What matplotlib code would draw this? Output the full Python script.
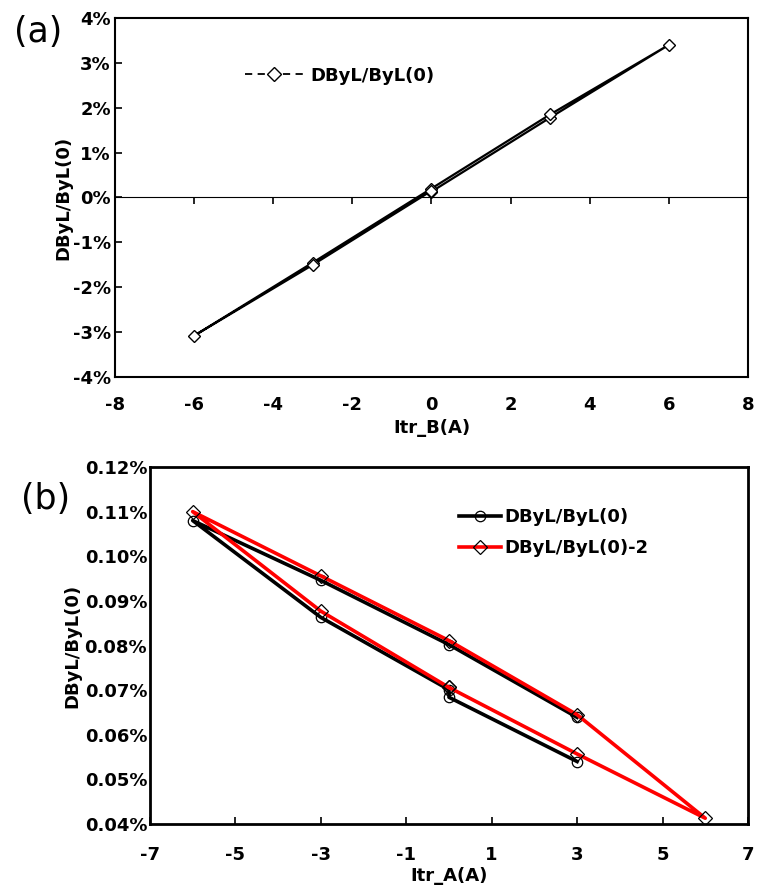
import matplotlib
matplotlib.use("Agg")
import matplotlib.pyplot as plt
from matplotlib.lines import Line2D
from matplotlib.ticker import FuncFormatter

# panel (a): sweep of Itr_B
itr_b = [0, 3, 6, 3, 0, -3, -6, -3, 0]
dbyl_a = [0.13, 1.78, 3.40, 1.85, 0.20, -1.45, -3.08, -1.50, 0.15]

# panel (b): sweep of Itr_A
itr_a_1 = [3, 0, 0, -3, -6, -3, 0, 3]
dbyl_b_1 = [0.0540, 0.0684, 0.0701, 0.0863, 0.1080, 0.0946, 0.0802, 0.0639]
itr_a_2 = [0, -3, -6, -3, 0, 3, 6, 3, 0]
dbyl_b_2 = [0.0706, 0.0877, 0.1100, 0.0956, 0.0811, 0.0645, 0.0413, 0.0557, 0.0706]

plt.rcParams["font.family"] = "DejaVu Sans"
plt.rcParams["font.weight"] = "bold"
plt.rcParams["axes.unicode_minus"] = False

fig = plt.figure(figsize=(7.64, 8.89), dpi=100)
ax_a = fig.add_axes([0.1505, 0.5759, 0.8285, 0.4039])
ax_b = fig.add_axes([0.1963, 0.0731, 0.7827, 0.4016])

tick_font = 13

# ---- (a)
ax_a.plot(itr_b, dbyl_a, color="black", lw=1.6, marker="D", ms=6.5,
          mfc="white", mec="black", mew=1.0)
ax_a.set_xlim(-8, 8)
ax_a.set_ylim(-4, 4)
ax_a.set_xticks(range(-8, 9, 2))
ax_a.set_yticks(range(-4, 5, 1))
ax_a.yaxis.set_major_formatter(FuncFormatter(lambda v, p: f"{v:.0f}%"))
ax_a.tick_params(axis="x", length=0, labelsize=tick_font, pad=14)
ax_a.tick_params(axis="y", direction="in", length=5, width=1.2, labelsize=tick_font, pad=3)
for s in ax_a.spines.values():
    s.set_linewidth(1.5)
zero_axis = ax_a.secondary_xaxis(0.5)
zero_axis.set_xticks(range(-8, 9, 2))
zero_axis.tick_params(direction="in", length=5, width=1.2, labelbottom=False, labeltop=False)
zero_axis.spines["bottom"].set_linewidth(1.3)
ax_a.set_xlabel("Itr_B(A)", fontsize=13, fontweight="bold", labelpad=3)
ax_a.set_ylabel("DByL/ByL(0)", fontsize=13, fontweight="bold", labelpad=0)
handle_a = Line2D([], [], color="black", lw=1.3, ls=(0, (4, 3)), marker="D", ms=7,
                  mfc="white", mec="black", mew=1.0)
ax_a.legend([handle_a], ["DByL/ByL(0)"], loc="upper left", bbox_to_anchor=(0.18, 0.91),
            frameon=False, fontsize=13, handlelength=3.2, handletextpad=0.4)
fig.text(0.018, 0.953, "(a)", fontsize=25, fontweight="normal")

# ---- (b)
ax_b.plot(itr_a_1, dbyl_b_1, color="black", lw=2.6, marker="o", ms=7.5,
          mfc="none", mec="black", mew=0.9, label="DByL/ByL(0)")
ax_b.plot(itr_a_2, dbyl_b_2, color="red", lw=2.6, marker="D", ms=7.5,
          mfc="none", mec="black", mew=0.9, label="DByL/ByL(0)-2")
ax_b.set_xlim(-7, 7)
ax_b.set_ylim(0.04, 0.12)
ax_b.set_xticks(range(-7, 8, 2))
ax_b.set_yticks([0.04 + 0.01 * i for i in range(9)])
ax_b.yaxis.set_major_formatter(FuncFormatter(lambda v, p: f"{v:.2f}%"))
ax_b.tick_params(axis="x", direction="in", length=5, width=1.2, labelsize=tick_font, pad=16)
ax_b.tick_params(axis="y", direction="in", length=0, labelsize=tick_font, pad=2)
for s in ax_b.spines.values():
    s.set_linewidth(2.0)
ax_b.set_xlabel("Itr_A(A)", fontsize=13, fontweight="bold", labelpad=2)
ax_b.set_ylabel("DByL/ByL(0)", fontsize=13, fontweight="bold", labelpad=2)
ax_b.legend(loc="upper left", bbox_to_anchor=(0.49, 0.93), frameon=False, fontsize=13,
            handlelength=2.3, handletextpad=0.2, labelspacing=0.7)
fig.text(0.027, 0.428, "(b)", fontsize=25, fontweight="normal")

fig.savefig("out.png", dpi=100)
